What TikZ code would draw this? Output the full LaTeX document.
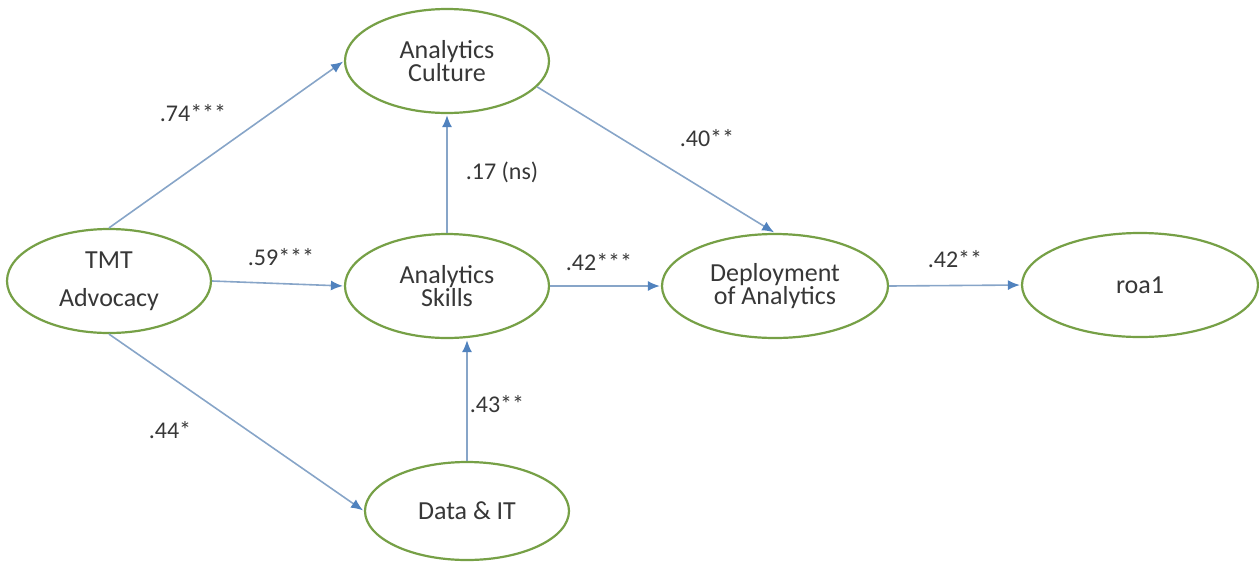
\documentclass[tikz,border=0pt]{standalone}
\usepackage{fontspec}
\setmainfont{Carlito}
\usepackage{tikz}
\usetikzlibrary{shapes.geometric,arrows.meta}
\definecolor{ringgreen}{RGB}{118,160,70}
\definecolor{pathblue}{RGB}{135,165,200}
\definecolor{tipblue}{RGB}{80,130,190}
\definecolor{labelgray}{RGB}{55,55,55}

\begin{document}
\begin{tikzpicture}[
      x=0.5pt,y=-0.5pt,
      construct/.style={ellipse,draw=ringgreen,line width=1.1pt,fill=white,
                        minimum width=102pt,minimum height=52pt,inner sep=0pt,
                        font=\fontsize{13}{11.5}\selectfont,align=center,
                        text=labelgray},
      coef/.style={font=\fontsize{12}{14}\selectfont,text=labelgray,inner sep=0pt},
      path/.style={-{Latex[length=6pt,width=5pt,color=tipblue]},line width=0.8pt,
                   color=pathblue,shorten >=0.5pt}
    ]
      \useasboundingbox (0,0) rectangle (1259,563);

      \node[construct,font=\fontsize{13}{19}\selectfont] (tmt) at (109,281) {TMT\\Advocacy};
      \node[construct] (culture) at (447,61) {Analytics\\Culture};
      \node[construct] (skills) at (447,286) {Analytics\\Skills};
      \node[construct,minimum width=113pt] (deploy) at (775,286) {Deployment\\of Analytics};
      \node[construct,minimum width=118pt] (roa) at (1140,285) {roa1};
      \node[construct,minimum height=49pt] (data) at (467,511) {Data \& IT};

      \node[coef] (c74) at (193,113) {.74***};
      \node[coef] (c59) at (281,257) {.59***};
      \node[coef] (c44) at (170,430) {.44*};
      \node[coef] (c17) at (502,172) {.17 (ns)};
      \node[coef] (c43) at (497,404) {.43**};
      \node[coef] (c42a) at (599,262) {.42***};
      \node[coef] (c40) at (707,138) {.40**};
      \node[coef] (c42b) at (955,259) {.42**};

      \draw[path] (tmt.north) -- (culture.west);
      \draw[path] (tmt.east) -- (skills.west);
      \draw[path] (tmt.south) -- (data.west);
      \draw[path] (skills.north) -- (culture.south);
      \draw[path] (data.north) -- (data.north |- skills.south);
      \draw[path] (culture.-16) -- (deploy.north);
      \draw[path] (skills.east) -- (deploy.west);
      \draw[path] (deploy.east) -- (roa.west);
    \end{tikzpicture}
\end{document}
